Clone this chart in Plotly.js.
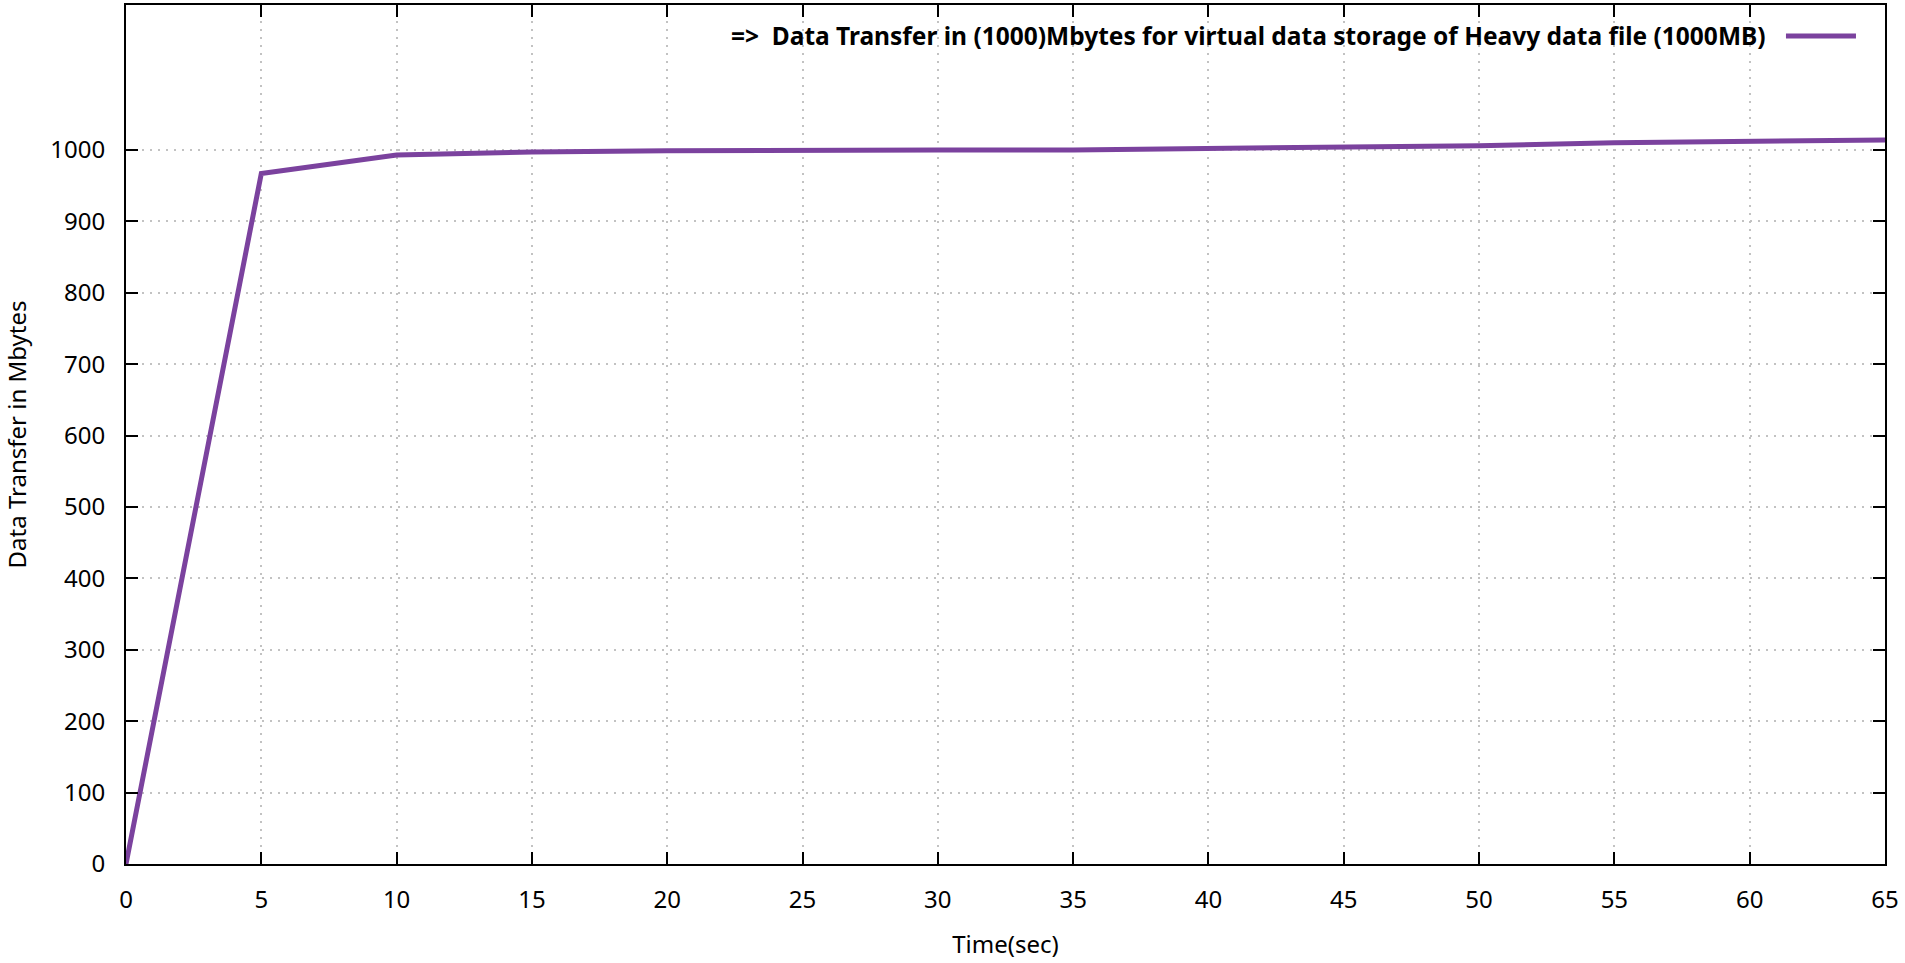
<!DOCTYPE html>
<html>
<head>
<meta charset="utf-8">
<script src="https://cdn.plot.ly/plotly-3.0.1.min.js"></script>
<style>html,body{margin:0;padding:0;background:#fff;}#chart{width:1905px;height:963px;}</style>
</head>
<body>
<div id="chart"></div>
<script>
const timeSec = [0, 5, 10, 15, 20, 25, 30, 35, 40, 45, 50, 55, 60, 65];
const transferMB = [0, 967, 993, 997, 999, 1000, 1000, 1000, 1002, 1003, 1006, 1010, 1012, 1014];
const xTicks = [0, 5, 10, 15, 20, 25, 30, 35, 40, 45, 50, 55, 60, 65];
const yTicks = [0, 100, 200, 300, 400, 500, 600, 700, 800, 900, 1000];
const seriesName = "=>  Data Transfer in (1000)Mbytes for virtual data storage of Heavy data file (1000MB)";
const lineColor = "#7b429e";

const trace = {
  x: timeSec, y: transferMB, type: "scatter", mode: "lines",
  name: seriesName, line: {color: lineColor, width: 5}, showlegend: false
};

const font = {family: "Noto Sans, Open Sans, sans-serif", size: 24, color: "#000"};
const titleFont = {family: "Noto Sans, Open Sans, sans-serif", size: 24, color: "#000"};

const layout = {
  width: 1905, height: 963,
  margin: {l: 126, r: 20, t: 5, b: 99},
  paper_bgcolor: "#fff", plot_bgcolor: "#fff",
  font: font,
  showlegend: false,
  xaxis: {
    range: [0, 65], tickvals: xTicks, ticktext: xTicks.map(String),
    showline: true, linecolor: "#000", linewidth: 2, mirror: "allticks",
    ticks: "inside", ticklen: 12, tickwidth: 2, tickcolor: "#000",
    showgrid: true, gridcolor: "#c2c2c2", gridwidth: 2, griddash: "2px,6px",
    zeroline: false, ticklabelstandoff: 13,
    tickfont: font,
    title: {text: "Time(sec)", font: titleFont, standoff: 22}
  },
  yaxis: {
    range: [0, 1203], tickvals: yTicks, ticktext: yTicks.map(String),
    showline: true, linecolor: "#000", linewidth: 2, mirror: "allticks",
    ticks: "inside", ticklen: 12, tickwidth: 2, tickcolor: "#000",
    showgrid: true, gridcolor: "#c2c2c2", gridwidth: 2, griddash: "2px,6px",
    zeroline: false, ticklabelstandoff: 14,
    tickfont: font,
    title: {text: "Data Transfer in Mbytes", font: titleFont, standoff: 30}
  },
  annotations: [{
    xref: "paper", yref: "paper", x: 0.9335, y: 0.964, xanchor: "right", yanchor: "middle",
    text: "<b>" + seriesName + "</b>", showarrow: false,
    font: {family: "Noto Sans, Open Sans, sans-serif", size: 24.5, color: "#000"}
  }],
  shapes: [{
    type: "line", xref: "paper", yref: "paper", x0: 0.9437, x1: 0.9835, y0: 0.964, y1: 0.964,
    line: {color: lineColor, width: 5}
  }]
};

Plotly.newPlot("chart", [trace], layout, {displayModeBar: false, staticPlot: true});
</script>
</body>
</html>
